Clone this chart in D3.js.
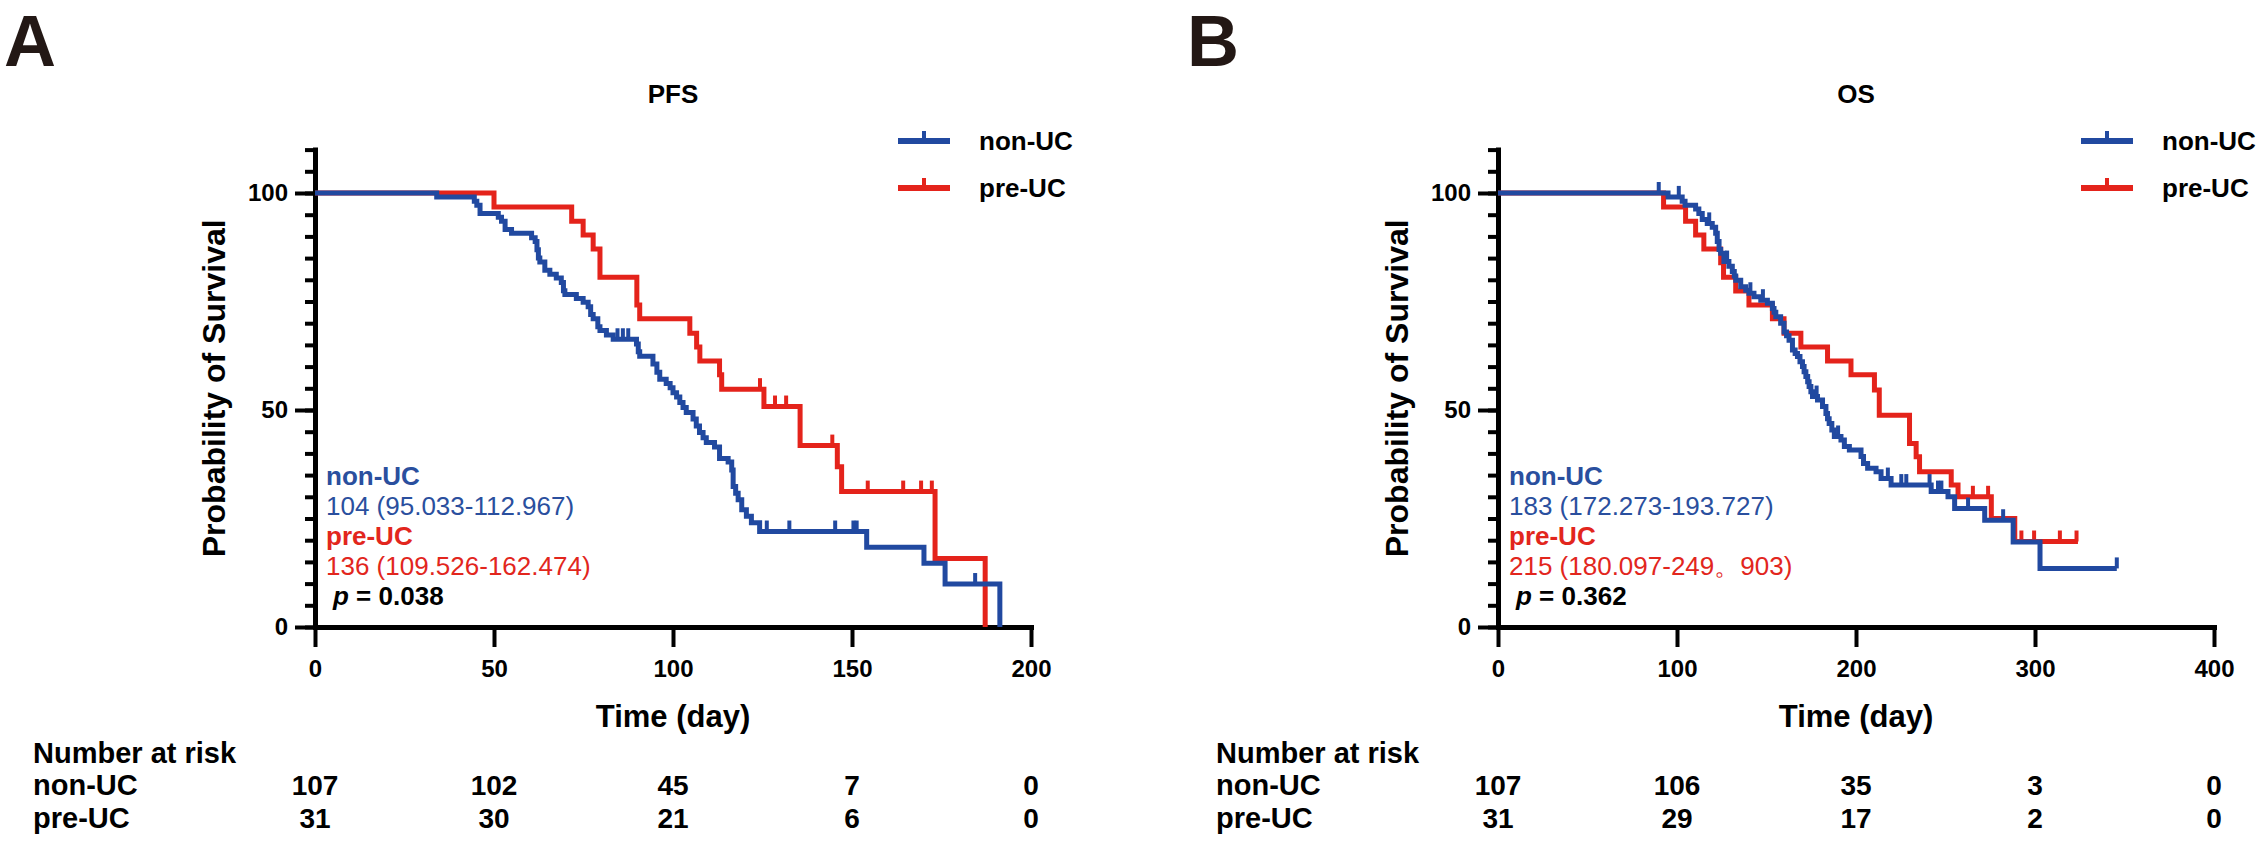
<!DOCTYPE html>
<html><head><meta charset="utf-8">
<script src="https://cdn.jsdelivr.net/npm/d3@7"></script>
<style>
body{margin:0;background:#fff}
svg{display:block}
text{font-family:Arial,"Liberation Sans",sans-serif}
</style>
</head><body>
<svg id="chart" width="2257" height="841"></svg>
<script>
// ---------- data ----------
const groups = ["non-UC", "pre-UC"];
const panelLetters = ["A", "B"];
const panelTitles = ["PFS", "OS"];
const yTickLabels = [0, 50, 100];
const pfsXTicks = [0, 50, 100, 150, 200];
const osXTicks = [0, 100, 200, 300, 400];

// Kaplan-Meier steps: [time (day), survival (%)] after each event
const pfsNonUC = [[0,100],[34,99.1],[44.5,98.1],[45.2,97.2],[46.1,95.3],[51.2,94.4],[52.1,93.5],[53.1,91.6],[54.9,90.7],[60.5,89.7],[61.5,88.8],[62.0,86.9],[62.4,85.0],[62.8,84.1],[64.2,82.2],[65.6,81.3],[67.4,80.4],[68.8,79.4],[69.4,77.5],[69.8,76.6],[73.0,75.7],[74.9,74.8],[76.3,73.8],[77.0,72.0],[77.7,71.0],[79.0,69.2],[79.6,68.3],[81.4,67.3],[83.3,66.3],[89.8,65.2],[90.3,63.4],[90.7,62.4],[94.4,60.6],[95.5,58.7],[96.3,57.1],[98.1,56.1],[99.2,55.1],[100.0,54.0],[101.0,53.0],[101.9,51.7],[102.8,50.6],[103.7,49.4],[105.6,47.9],[106.5,46.3],[107.4,44.8],[108.4,43.6],[109.3,42.5],[111.6,41.5],[113.0,38.8],[115.4,38.0],[116.4,36.2],[116.8,32.4],[117.5,30.8],[118.2,29.3],[119.2,27.0],[120.5,25.5],[121.9,24.0],[124.2,22.0],[154.1,18.4],[170.1,14.7],[176.0,9.9],[191.3,0]];
const pfsNonUCCensor = [84.5, 86.0, 87.5, 126.2, 132.5, 145.3, 150.4, 151.3, 184.4];

const pfsPreUC = [[0,100],[50,96.8],[71.7,93.5],[74.9,90.3],[77.7,87.1],[79.6,80.6],[89.9,74.2],[90.7,71.0],[104.7,67.7],[106.6,64.5],[107.5,61.3],[113.0,58.1],[113.6,54.8],[125.4,50.8],[135.5,41.8],[145.9,36.9],[147.1,31.2],[173.2,15.8],[187.2,0]];
const pfsPreUCCensor = [124.3, 128.5, 131.6, 144.5, 154.4, 164.3, 169.3, 172.3];

const osNonUC = [[0,100],[95,99.1],[102.9,98.1],[104.5,97.2],[110.4,96.3],[112.2,95.3],[114.1,93.9],[116.9,93.0],[119.7,92.1],[121.6,90.7],[122.5,88.8],[123.5,87.0],[124.4,86.1],[126.2,84.2],[129.0,83.1],[130.9,81.9],[132.0,80.9],[132.8,79.9],[135.6,78.4],[138.4,77.6],[140.2,76.9],[143.0,76.1],[146.8,75.3],[150.5,74.6],[153.3,73.4],[154.2,72.5],[155.2,71.5],[157.9,70.0],[159.8,68.0],[161.2,67.1],[162.6,66.1],[164.5,63.8],[166.0,63.0],[167.3,62.3],[168.7,61.1],[170.1,60.0],[171.0,58.8],[172.0,57.7],[173.0,56.5],[173.8,55.4],[174.8,54.2],[175.7,53.1],[178.5,52.3],[181.3,50.8],[183.2,49.2],[184.1,48.0],[185.0,46.9],[186.5,45.4],[187.9,43.9],[191.6,43.1],[193.5,41.6],[196.3,40.8],[202.8,39.3],[204.2,37.7],[206.5,36.6],[211.2,35.8],[214.0,34.2],[219.6,32.7],[242.0,31.2],[251.4,30.0],[255.1,27.3],[271.9,24.6],[287.8,19.6],[302.8,13.5],[345.7,13.5]];
const osNonUCCensor = [89.8, 101.0, 118.0, 128.0, 141.0, 148.0, 178.0, 190.0, 217.8, 225.3, 228.1, 241.1, 245.8, 247.7, 262.6, 282.2, 345.7];

const osPreUC = [[0,100],[92.5,96.8],[104.8,93.5],[110.4,90.3],[115.0,87.1],[124.4,83.9],[126.0,80.6],[132.8,77.4],[140.2,74.2],[153.3,71.0],[159.8,67.7],[169.2,64.5],[184.1,61.3],[197.2,58.1],[210.3,54.6],[213.0,48.8],[229.9,42.3],[233.6,39.2],[235.5,35.8],[253.2,32.7],[257.0,30.0],[275.6,25.0],[288.7,19.7],[324.0,19.7]];
const osPreUCCensor = [265.3, 273.8, 292.4, 299.5, 313.9, 323.2];

const pfsMedians = ["104 (95.033-112.967)", "136 (109.526-162.474)"];
const osMedians = ["183 (172.273-193.727)", "215 (180.097-249\u3002903)"];
const pValues = ["0.038", "0.362"];

const pfsRiskNonUC = [107, 102, 45, 7, 0];
const pfsRiskPreUC = [31, 30, 21, 6, 0];
const osRiskNonUC = [107, 106, 35, 3, 0];
const osRiskPreUC = [31, 29, 17, 2, 0];

// ---------- styles ----------
const colors = ["#2149A0", "#E4231B"];
const textColors = ["#2a4f9e", "#e2261d"];
const font = 'Arial, "Liberation Sans", sans-serif';

const svg = d3.select("#chart");
svg.append("rect").attr("width", 2257).attr("height", 841).attr("fill", "#fff");

const panels = [
  { x0: 315, xMax: 200, ticks: pfsXTicks, series: [pfsNonUC, pfsPreUC], censors: [pfsNonUCCensor, pfsPreUCCensor],
    medians: pfsMedians, p: pValues[0], risk: [pfsRiskNonUC, pfsRiskPreUC], letter: panelLetters[0], title: panelTitles[0] },
  { x0: 1498, xMax: 400, ticks: osXTicks, series: [osNonUC, osPreUC], censors: [osNonUCCensor, osPreUCCensor],
    medians: osMedians, p: pValues[1], risk: [osRiskNonUC, osRiskPreUC], letter: panelLetters[1], title: panelTitles[1] }
];

const plotW = 716, yTop = 193, yBottom = 627;

function survAt(steps, t) {
  let s = steps[0][1];
  for (const [tt, pp] of steps) { if (tt <= t) s = pp; else break; }
  return s;
}

panels.forEach(P => {
  const g = svg.append("g");
  const x = d3.scaleLinear().domain([0, P.xMax]).range([P.x0, P.x0 + plotW]);
  const y = d3.scaleLinear().domain([0, 100]).range([yBottom, yTop]);
  const cx = P.x0 + plotW / 2;

  // panel letter
  g.append("text").attr("x", P.x0 - 311).attr("y", 66).attr("font-size", 72).attr("font-weight", "bold")
    .attr("fill", "#231815").text(P.letter);
  // title
  g.append("text").attr("x", cx).attr("y", 103).attr("text-anchor", "middle").attr("font-size", 26)
    .attr("font-weight", "bold").text(P.title);

  // minor y ticks
  const yMinor = g.append("g").attr("transform", `translate(${P.x0},0)`)
    .call(d3.axisLeft(y.copy().domain([0, 110]).range([yBottom, yBottom - (yBottom - yTop) * 1.1]))
      .tickValues(d3.range(0, 111, 5)).tickSize(10).tickSizeOuter(0).tickFormat(""));
  // major y ticks
  const yMajor = g.append("g").attr("transform", `translate(${P.x0},0)`)
    .call(d3.axisLeft(y).tickValues(yTickLabels).tickSize(20).tickSizeOuter(0).tickPadding(7));
  yMajor.select(".domain").remove();
  // x axis
  const xAx = g.append("g").attr("transform", `translate(0,${yBottom})`)
    .call(d3.axisBottom(x).tickValues(P.ticks).tickSize(20).tickSizeOuter(0).tickPadding(13));
  [yMinor, yMajor, xAx].forEach(a => {
    a.selectAll("path.domain").attr("stroke", "#000").attr("stroke-width", 5).attr("stroke-linecap", "square");
    a.selectAll(".tick line").attr("stroke", "#000").attr("stroke-width", 4);
    a.selectAll("text").attr("font-size", 24).attr("font-weight", "bold").attr("fill", "#000").attr("font-family", font);
  });
  // axis titles
  g.append("text").attr("transform", `translate(${P.x0 - 90},${(yBottom + yBottom - (yBottom - yTop) * 1.1) / 2}) rotate(-90)`)
    .attr("text-anchor", "middle").attr("font-size", 32).attr("font-weight", "bold").text("Probability of Survival");
  g.append("text").attr("x", cx).attr("y", 727).attr("text-anchor", "middle").attr("font-size", 31)
    .attr("font-weight", "bold").text("Time (day)");

  // curves
  const line = d3.line().x(d => x(d[0])).y(d => y(d[1])).curve(d3.curveStepAfter);
  [1, 0].forEach(i => {
    g.append("path").datum(P.series[i]).attr("d", line).attr("fill", "none")
      .attr("stroke", colors[i]).attr("stroke-width", 5).attr("stroke-linejoin", "miter");
    g.selectAll(null).data(P.censors[i]).enter().append("line")
      .attr("x1", d => x(d)).attr("x2", d => x(d))
      .attr("y1", d => y(survAt(P.series[i], d))).attr("y2", d => y(survAt(P.series[i], d)) - 11)
      .attr("stroke", colors[i]).attr("stroke-width", 4);
  });

  // legend
  groups.forEach((name, i) => {
    const ly = 141 + i * 47;
    const lx = P.x0 + 583;
    g.append("line").attr("x1", lx).attr("x2", lx + 52).attr("y1", ly).attr("y2", ly)
      .attr("stroke", colors[i]).attr("stroke-width", 6);
    g.append("line").attr("x1", lx + 26).attr("x2", lx + 26).attr("y1", ly).attr("y2", ly - 10)
      .attr("stroke", colors[i]).attr("stroke-width", 4);
    g.append("text").attr("x", lx + 81).attr("y", ly + 9).attr("font-size", 26).attr("font-weight", "bold")
      .text(name);
  });

  // annotations (median survival)
  const ax = P.x0 + 11;
  groups.forEach((name, i) => {
    g.append("text").attr("x", ax).attr("y", 485 + i * 60).attr("font-size", 26).attr("font-weight", "bold")
      .attr("fill", textColors[i]).text(name);
    g.append("text").attr("x", ax).attr("y", 515 + i * 60).attr("font-size", 26)
      .attr("fill", textColors[i]).text(P.medians[i]);
  });
  const pt = g.append("text").attr("x", ax + 7).attr("y", 605).attr("font-size", 26).attr("font-weight", "bold");
  pt.append("tspan").attr("font-style", "italic").text("p");
  pt.append("tspan").text(" = " + P.p);

  // number at risk table
  const tx = P.x0 - 282;
  g.append("text").attr("x", tx).attr("y", 763).attr("font-size", 29).attr("font-weight", "bold").text("Number at risk");
  groups.forEach((name, i) => {
    const ry = 795 + i * 33;
    g.append("text").attr("x", tx).attr("y", ry).attr("font-size", 29).attr("font-weight", "bold").text(name);
    g.selectAll(null).data(P.risk[i]).enter().append("text")
      .attr("x", (d, k) => x(P.ticks[k])).attr("y", ry).attr("text-anchor", "middle")
      .attr("font-size", 28).attr("font-weight", "bold").text(d => d);
  });
});
</script>
</body></html>
